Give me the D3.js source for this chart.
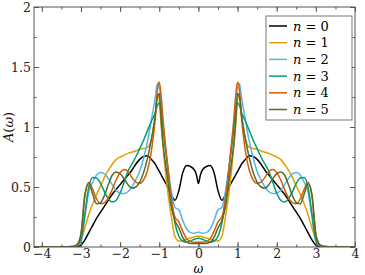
<!DOCTYPE html>
<meta charset="utf-8">
<script src="https://d3js.org/d3.v7.min.js"></script>
<style>
  body { margin: 0; background: #fff; }
</style>
<div id="chart"></div>

<script>
// frequency grid (omega)
const omega = [-4.2, -4, -3.5, -3.2, -3.1, -3, -2.9, -2.8, -2.7, -2.6, -2.5, -2.4, -2.3, -2.2, -2.1, -2, -1.9, -1.8, -1.7, -1.6, -1.5, -1.4, -1.3, -1.2, -1.1, -1.05, -1, -0.95, -0.9, -0.8, -0.7, -0.6, -0.5, -0.4, -0.3, -0.2, -0.1, -0.05,
  0,
  0.05, 0.1, 0.2, 0.3, 0.4, 0.5, 0.6, 0.7, 0.8, 0.9, 0.95, 1, 1.05, 1.1, 1.2, 1.3, 1.4, 1.5, 1.6, 1.7, 1.8, 1.9, 2, 2.1, 2.2, 2.3, 2.4, 2.5, 2.6, 2.7, 2.8, 2.9, 3, 3.1, 3.2, 3.5, 4]

// A(omega) for each n
const a0 = [0, 0, 0, 0.001, 0.004, 0.015, 0.06, 0.12, 0.18, 0.24, 0.29, 0.34, 0.39, 0.44, 0.48, 0.52, 0.56, 0.6, 0.64, 0.69, 0.73, 0.755, 0.76, 0.73, 0.69, 0.66, 0.63, 0.6, 0.57, 0.51, 0.44, 0.39, 0.47, 0.62, 0.68, 0.67, 0.64, 0.6,
  0.53,
  0.6, 0.64, 0.67, 0.68, 0.62, 0.47, 0.39, 0.44, 0.51, 0.57, 0.6, 0.63, 0.66, 0.69, 0.73, 0.76, 0.755, 0.73, 0.69, 0.64, 0.6, 0.56, 0.52, 0.48, 0.44, 0.39, 0.34, 0.29, 0.24, 0.18, 0.12, 0.06, 0.015, 0.004, 0.001, 0, 0]
const a1 = [0, 0, 0.001, 0.005, 0.015, 0.06, 0.16, 0.27, 0.36, 0.44, 0.51, 0.58, 0.64, 0.69, 0.73, 0.75, 0.765, 0.78, 0.79, 0.8, 0.815, 0.82, 0.83, 0.9, 1.12, 1.27, 1.22, 1.0, 0.82, 0.5, 0.27, 0.09, 0.05, 0.055, 0.065, 0.075, 0.085, 0.09,
  0.09,
  0.09, 0.085, 0.075, 0.065, 0.055, 0.05, 0.09, 0.27, 0.5, 0.82, 1.0, 1.22, 1.27, 1.12, 0.9, 0.83, 0.82, 0.815, 0.8, 0.79, 0.78, 0.765, 0.75, 0.73, 0.69, 0.64, 0.58, 0.51, 0.44, 0.36, 0.27, 0.16, 0.06, 0.015, 0.005, 0.001, 0]
const a2 = [0, 0, 0.001, 0.003, 0.01, 0.04, 0.25, 0.46, 0.54, 0.6, 0.62, 0.61, 0.57, 0.52, 0.47, 0.45, 0.445, 0.46, 0.5, 0.56, 0.63, 0.74, 0.88, 1.06, 1.25, 1.36, 1.33, 1.2, 1.0, 0.72, 0.48, 0.33, 0.31, 0.22, 0.15, 0.12, 0.115, 0.12,
  0.125,
  0.12, 0.115, 0.12, 0.15, 0.22, 0.31, 0.33, 0.48, 0.72, 1.0, 1.2, 1.33, 1.36, 1.25, 1.06, 0.88, 0.74, 0.63, 0.56, 0.5, 0.46, 0.445, 0.45, 0.47, 0.52, 0.57, 0.61, 0.62, 0.6, 0.54, 0.46, 0.25, 0.04, 0.01, 0.003, 0.001, 0]
const a3 = [0, 0, 0.001, 0.004, 0.015, 0.06, 0.28, 0.5, 0.58, 0.575, 0.53, 0.46, 0.4, 0.375, 0.39, 0.45, 0.54, 0.63, 0.69, 0.75, 0.82, 0.89, 0.97, 1.05, 1.12, 1.18, 1.2, 1.12, 0.98, 0.7, 0.42, 0.2, 0.09, 0.05, 0.04, 0.05, 0.065, 0.07,
  0.075,
  0.07, 0.065, 0.05, 0.04, 0.05, 0.09, 0.2, 0.42, 0.7, 0.98, 1.12, 1.2, 1.18, 1.12, 1.05, 0.97, 0.89, 0.82, 0.75, 0.69, 0.63, 0.54, 0.45, 0.39, 0.375, 0.4, 0.46, 0.53, 0.575, 0.58, 0.5, 0.28, 0.06, 0.015, 0.004, 0.001, 0]
const a4 = [0, 0, 0.001, 0.005, 0.02, 0.1, 0.42, 0.54, 0.48, 0.4, 0.36, 0.37, 0.41, 0.48, 0.56, 0.62, 0.645, 0.63, 0.58, 0.54, 0.53, 0.56, 0.64, 0.8, 1.08, 1.3, 1.375, 1.25, 1.05, 0.72, 0.42, 0.25, 0.21, 0.13, 0.07, 0.045, 0.04, 0.04,
  0.04,
  0.04, 0.04, 0.045, 0.07, 0.13, 0.21, 0.25, 0.42, 0.72, 1.05, 1.25, 1.375, 1.3, 1.08, 0.8, 0.64, 0.56, 0.53, 0.54, 0.58, 0.63, 0.645, 0.62, 0.56, 0.48, 0.41, 0.37, 0.36, 0.4, 0.48, 0.54, 0.42, 0.1, 0.02, 0.005, 0.001, 0]
const a5 = [0, 0, 0.001, 0.005, 0.02, 0.11, 0.44, 0.53, 0.44, 0.36, 0.37, 0.43, 0.52, 0.6, 0.625, 0.61, 0.57, 0.52, 0.49, 0.5, 0.54, 0.62, 0.74, 0.9, 1.1, 1.25, 1.28, 1.05, 0.85, 0.6, 0.35, 0.22, 0.16, 0.08, 0.04, 0.03, 0.03, 0.03,
  0.03,
  0.03, 0.03, 0.03, 0.04, 0.08, 0.16, 0.22, 0.35, 0.6, 0.85, 1.05, 1.28, 1.25, 1.1, 0.9, 0.74, 0.62, 0.54, 0.5, 0.49, 0.52, 0.57, 0.61, 0.625, 0.6, 0.52, 0.43, 0.37, 0.36, 0.44, 0.53, 0.44, 0.11, 0.02, 0.005, 0.001, 0]

const labels = ["0", "1", "2", "3", "4", "5"]
const colors = ["#000000", "#e69f00", "#56b4e9", "#009e73", "#d55e00", "#556b2f"]
const xTicks = [-4, -3, -2, -1, 0, 1, 2, 3, 4]
const yTicks = [0, 0.5, 1, 1.5, 2]
const yTickLabels = ["0", "0.5", "1", "1.5", "2"]

const series = [a0, a1, a2, a3, a4, a5].map((vals, i) => ({
    label: labels[i],
    color: colors[i],
    values: omega.map((w, j) => ({w: w, a: vals[j]}))
}))

const FONT = "'DejaVu Serif', serif"
const W = 365, H = 275
const margin = {top: 7, right: 10, bottom: 28, left: 34}
const width = W - margin.left - margin.right
const height = H - margin.top - margin.bottom

const svg = d3.select("#chart")
    .append("svg")
    .attr("width", W)
    .attr("height", H)
    .attr("font-family", FONT)

const g = svg.append("g")
    .attr("transform", `translate(${margin.left}, ${margin.top})`)

const x = d3.scaleLinear()
    .domain([-4.2, 4])
    .range([0, width])

const y = d3.scaleLinear()
    .domain([0, 2])
    .range([height, 0])

g.append("clipPath")
    .attr("id", "clip")
    .append("rect")
    .attr("width", width)
    .attr("height", height)

// the curves
const line = d3.line()
    .x(d => x(d.w))
    .y(d => y(d.a))
    .curve(d3.curveMonotoneX)

g.append("g")
    .attr("clip-path", "url(#clip)")
    .selectAll("path")
    .data(series)
    .join("path")
        .attr("fill", "none")
        .attr("stroke", d => d.color)
        .attr("stroke-width", 1.5)
        .attr("stroke-linejoin", "round")
        .attr("d", d => line(d.values))

// axes, ticks point inwards on all four sides
const axisColor = "#555"
const minorX = d3.range(-4, 4.01, 0.5)
const minorY = d3.range(0, 2.01, 0.25)
const fmtX = d => d < 0 ? "\u2212" + (-d) : String(d)
const fmtY = d => yTickLabels[yTicks.indexOf(d)]

function styleAxis(sel) {
    sel.attr("font-family", FONT)
        .attr("font-size", 12.5)
    sel.select(".domain").remove()
    sel.selectAll(".tick line").attr("stroke", axisColor)
    sel.selectAll("text").attr("fill", "#222")
}

g.append("g")
    .attr("transform", `translate(0, ${height})`)
    .call(d3.axisBottom(x).tickValues(minorX).tickSize(-2.5).tickFormat(""))
    .call(styleAxis)
g.append("g")
    .attr("transform", `translate(0, ${height})`)
    .call(d3.axisBottom(x).tickValues(xTicks).tickSize(-5).tickPadding(2).tickFormat(fmtX))
    .call(styleAxis)
g.append("g")
    .call(d3.axisTop(x).tickValues(minorX).tickSize(-2.5).tickFormat(""))
    .call(styleAxis)
g.append("g")
    .call(d3.axisTop(x).tickValues(xTicks).tickSize(-5).tickFormat(""))
    .call(styleAxis)

g.append("g")
    .call(d3.axisLeft(y).tickValues(minorY).tickSize(-2.5).tickFormat(""))
    .call(styleAxis)
g.append("g")
    .call(d3.axisLeft(y).tickValues(yTicks).tickSize(-5).tickPadding(3).tickFormat(fmtY))
    .call(styleAxis)
g.append("g")
    .attr("transform", `translate(${width}, 0)`)
    .call(d3.axisRight(y).tickValues(minorY).tickSize(-2.5).tickFormat(""))
    .call(styleAxis)
g.append("g")
    .attr("transform", `translate(${width}, 0)`)
    .call(d3.axisRight(y).tickValues(yTicks).tickSize(-5).tickFormat(""))
    .call(styleAxis)

g.append("rect")
    .attr("width", width)
    .attr("height", height)
    .attr("fill", "none")
    .attr("stroke", axisColor)
    .attr("stroke-width", 1)

// axis titles
g.append("text")
    .attr("x", x(0))
    .attr("y", height + 26)
    .attr("text-anchor", "middle")
    .attr("font-size", 12)
    .attr("font-style", "italic")
    .text("ω")

const yl = svg.append("text")
    .attr("transform", `translate(13, ${margin.top + height / 2}) rotate(-90)`)
    .attr("text-anchor", "middle")
    .attr("font-size", 13)
yl.append("tspan").attr("font-style", "italic").text("A")
yl.append("tspan").text("(")
yl.append("tspan").attr("font-style", "italic").text("ω")
yl.append("tspan").text(")")

// legend
const legend = svg.append("g")
    .attr("transform", "translate(266, 16)")

legend.append("rect")
    .attr("width", 86)
    .attr("height", 104)
    .attr("fill", "#fff")
    .attr("stroke", "#777")

const item = legend.selectAll("g.item")
    .data(series)
    .join("g")
        .attr("class", "item")
        .attr("transform", (d, i) => `translate(0, ${10 + i * 16.7})`)

item.append("line")
    .attr("x1", 3)
    .attr("x2", 21)
    .attr("stroke", d => d.color)
    .attr("stroke-width", 1.5)

const lt = item.append("text")
    .attr("x", 27)
    .attr("y", 4.5)
    .attr("font-size", 13)
lt.append("tspan").attr("font-style", "italic").text("n")
lt.append("tspan").text(d => " = " + d.label)
</script>
